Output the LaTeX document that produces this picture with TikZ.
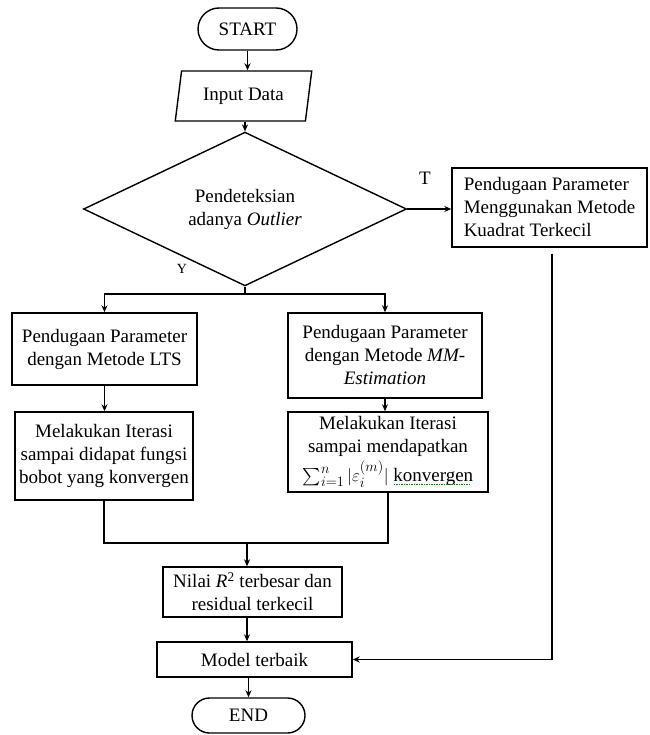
\documentclass[tikz,border=0pt]{standalone}
\usepackage{exscale}
\usepackage{fontspec}
\setmainfont{Liberation Serif}
\usetikzlibrary{shapes.geometric,arrows.meta}
\newsavebox\gwbox
\newcommand\greenwave[1]{\sbox\gwbox{#1}\rlap{\usebox\gwbox}\raisebox{-4pt}{\color{green!55!black}\leaders\hbox to 2.5pt{\hss\rule{1.5pt}{1.2pt}\hss}\hskip\wd\gwbox}}
\begin{document}
\begin{tikzpicture}[x=1pt,y=-1pt,
  every node/.style={font=\fontsize{19}{23}\selectfont},
  box/.style={draw,line width=1.4pt,inner sep=0pt,align=center},
  arr/.style={line width=1.3pt,-{Stealth[length=7pt,width=6pt]}},
  ln/.style={line width=1.3pt},
  lab/.style={inner sep=0pt}]
\useasboundingbox[fill=white] (0,0) rectangle (649,735);

\node[box,rounded corners=21pt,minimum width=99pt,minimum height=42pt] (start) at (247.5,29) {START};
\node[box,trapezium,trapezium left angle=76,trapezium right angle=104,trapezium stretches=true,minimum width=137pt,minimum height=50pt] (input) at (243.5,96) {Input Data};
\node[box,diamond,minimum width=323pt,minimum height=108pt] (dia) at (245,209) {Pendeteksian\\adanya \textit{Outlier}};
\node[box,align=left,minimum width=195pt,minimum height=79pt] (ols) at (549.5,207.5) {Pendugaan Parameter\\Menggunakan Metode\\Kuadrat Terkecil};
\node[box,minimum width=185pt,minimum height=72pt] (lts) at (104.5,349) {Pendugaan Parameter\\dengan Metode LTS};
\node[box,minimum width=194pt,minimum height=85pt] (mm) at (385,355.5) {Pendugaan Parameter\\dengan Metode \textit{MM-}\\\textit{Estimation}};
\node[box,minimum width=178pt,minimum height=88pt] (it1) at (104,456) {Melakukan Iterasi\\sampai didapat fungsi\\bobot yang konvergen};
\node[box,minimum width=200pt,minimum height=80pt] (it2) at (388,452) {Melakukan Iterasi\\sampai mendapatkan\\[3pt]$\sum_{i=1}^{n}|\varepsilon_i^{(m)}|$ \greenwave{konvergen}};
\node[box,minimum width=179pt,minimum height=50pt] (nilai) at (252.5,592) {Nilai \textit{R}\textsuperscript{2} terbesar dan\\residual terkecil};
\node[box,minimum width=195pt,minimum height=35pt] (model) at (254.5,659.5) {Model terbaik};
\node[box,rounded corners=17.5pt,minimum width=113pt,minimum height=35pt] (end) at (248.5,715.5) {END};

\node[lab] (tlab) at (425,178) {T};
\node[lab,font=\fontsize{14}{16}\selectfont] (ylab) at (182,269) {Y};

\coordinate (split) at (245,294);
\coordinate (join) at (247,543);

\draw[arr] (start.south) -- (start.south |- input.north);
\draw[arr] (dia.north |- input.south) -- (dia.north);
\draw[arr] (dia.east) -- (dia.east -| ols.west);
\draw[ln] (dia.south) -- (split);
\draw[arr] (split) -| (lts.north);
\draw[arr] (split) -| (mm.north);
\draw[arr] (lts.south) -- (lts.south |- it1.north);
\draw[arr] (mm.south) -- (mm.south |- it2.north);
\draw[ln] (it1.south) |- (join);
\draw[ln] (it2.south) |- (join);
\draw[arr] (join) -- (join |- nilai.north);
\draw[arr] (join |- nilai.south) -- (join |- model.north);
\draw[arr,shorten <=6pt] ([xshift=2.5pt]ols.south) |- (model.east);
\draw[arr] (end.north |- model.south) -- (end.north);
\end{tikzpicture}
\end{document}
